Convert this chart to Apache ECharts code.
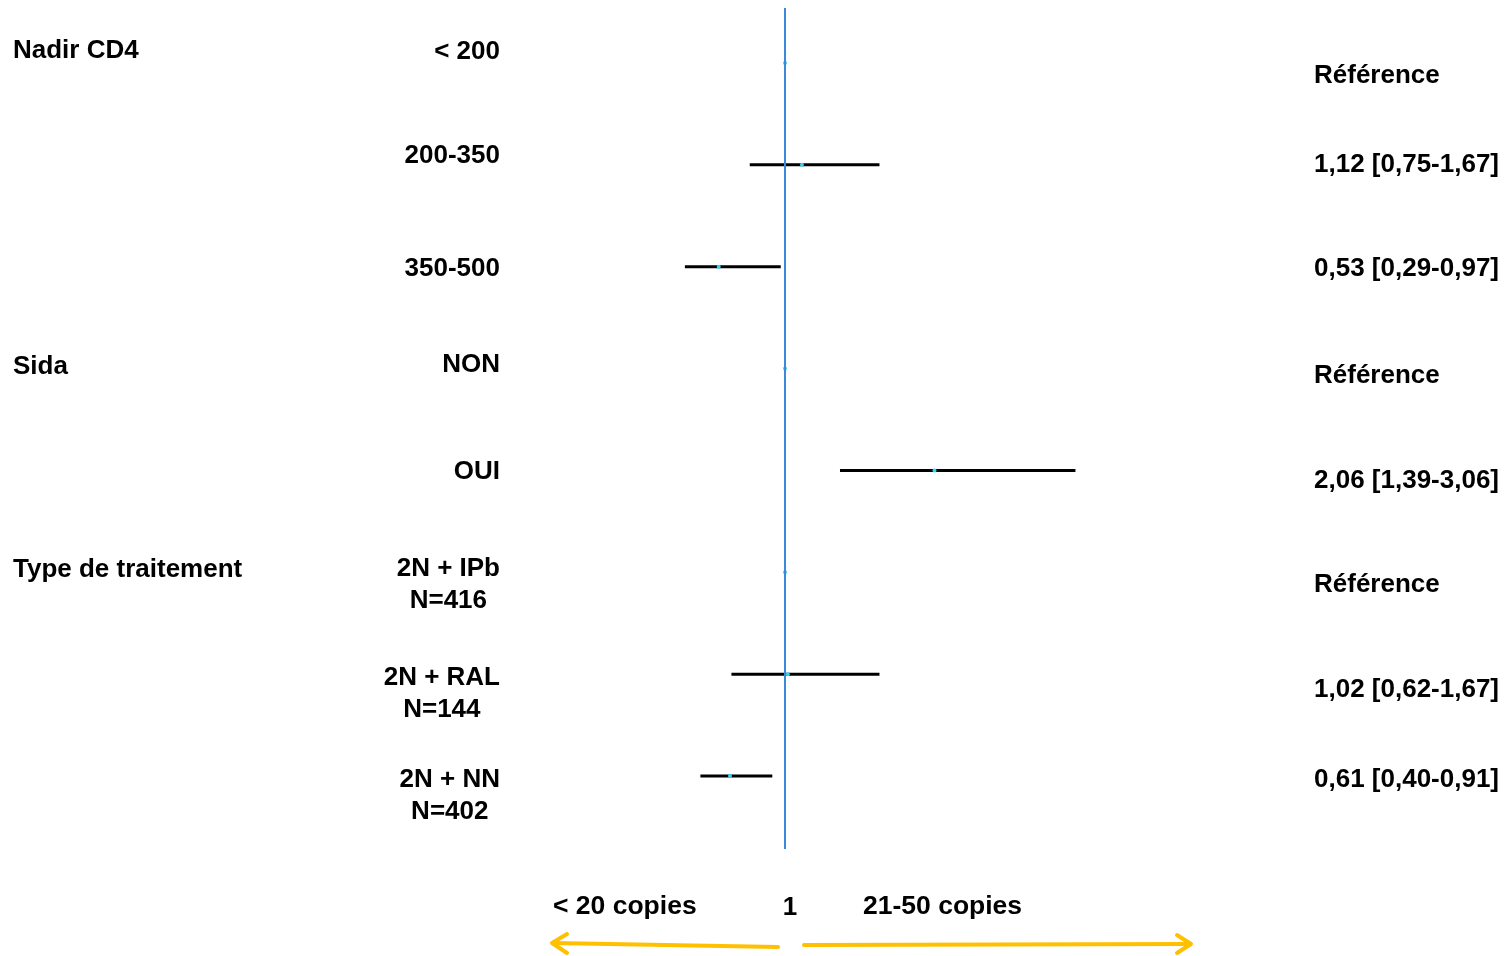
<!DOCTYPE html>
<html>
<head>
<meta charset="utf-8">
<script src="https://cdn.jsdelivr.net/npm/echarts@6/dist/echarts.min.js"></script>
<style>
html,body{margin:0;padding:0;background:#fff;}
#chart{width:1509px;height:956px;}
</style>
</head>
<body>
<div id="chart"></div>
<script>
// ---- data ----
const groups = ['Nadir CD4', '', '', 'Sida', '', 'Type de traitement', '', ''];
const categories = ['< 200', '200-350', '350-500', 'NON', 'OUI', '2N + IPb\nN=416', '2N + RAL\nN=144', '2N + NN\nN=402'];
const estimate = [1, 1.12, 0.53, 1, 2.06, 1, 1.02, 0.61];
const lower = [null, 0.75, 0.29, null, 1.39, null, 0.62, 0.40];
const upper = [null, 1.67, 0.97, null, 3.06, null, 1.67, 0.91];
const referenceValue = 1;
const xTickLabels = ['1'];
const leftNote = '< 20 copies';
const rightNote = '21-50 copies';

// ---- layout tweaks (label vertical nudges, px) ----
const groupNudge = [-12, 0, 0, -2, 0, -2, 0, 0];
const catNudge = [-11, -9, 2, -4, 1, 13, 20, 20];
const resNudge = [13, 0, 2, 7, 10, 13, 16, 4];

const fmt = v => v.toFixed(2).replace('.', ',');
const results = estimate.map((e, i) => lower[i] == null ? 'Référence'
  : fmt(e) + ' [' + fmt(lower[i]) + '-' + fmt(upper[i]) + ']');

const FONT = 'Liberation Sans, Arial, sans-serif';
const pad = d => [d > 0 ? 2 * d : 0, 0, d < 0 ? -2 * d : 0, 0];
const withNudge = (arr, nudge, align) => arr.map((v, i) => ({ value: v, textStyle: { padding: pad(nudge[i]), align: align } }));
const richFmt = v => v.split('\n').map(s => '{c|' + s + '}').join('\n');
const richC = { c: { align: 'center', fontSize: 26, fontWeight: 'bold', color: '#000', fontFamily: FONT, lineHeight: 32 } };

const labelBase = { fontSize: 26, fontWeight: 'bold', color: '#000', fontFamily: FONT, interval: 0, lineHeight: 32 };

const chart = echarts.init(document.getElementById('chart'));
chart.setOption({
  backgroundColor: '#fff',
  animation: false,
  grid: [
    { left: 644, right: 301, top: 63, height: 713, containLabel: false, outerBoundsMode: 'none' },
    { left: 644, right: 301, top: 8, height: 841, containLabel: false, outerBoundsMode: 'none' }
  ],
  xAxis: [
    { gridIndex: 0, type: 'value', min: 0, max: 4, show: false },
    { gridIndex: 1, type: 'value', min: 0, max: 4, interval: 1,
      axisLine: { show: false }, axisTick: { show: false }, splitLine: { show: false },
      axisLabel: Object.assign({}, labelBase, { margin: 43, padding: [0, 0, 0, 10],
        formatter: v => xTickLabels.indexOf(String(v)) >= 0 ? String(v) : '' }) }
  ],
  yAxis: [
    { gridIndex: 0, type: 'category', inverse: true, boundaryGap: false, position: 'left', offset: 0,
      data: withNudge(categories, catNudge, 'right'),
      axisLine: { show: false }, axisTick: { show: false }, splitLine: { show: false },
      axisLabel: Object.assign({}, labelBase, { margin: 144, align: 'right', formatter: richFmt, rich: richC }) },
    { gridIndex: 0, type: 'category', inverse: true, boundaryGap: false, position: 'left', offset: 0,
      data: withNudge(groups, groupNudge, 'left'),
      axisLine: { show: false }, axisTick: { show: false }, splitLine: { show: false },
      axisLabel: Object.assign({}, labelBase, { margin: 631, align: 'left', formatter: richFmt, rich: richC }) },
    { gridIndex: 0, type: 'category', inverse: true, boundaryGap: false, position: 'right', offset: 0,
      data: withNudge(results, resNudge, 'left'),
      axisLine: { show: false }, axisTick: { show: false }, splitLine: { show: false },
      axisLabel: Object.assign({}, labelBase, { margin: 106, align: 'left', formatter: richFmt, rich: richC }) },
    { gridIndex: 1, type: 'value', min: 0, max: 1, show: false }
  ],
  series: [
    {
      type: 'custom',
      xAxisIndex: 0, yAxisIndex: 0,
      encode: { x: [1, 2, 3], y: 0 },
      data: categories.map((c, i) => [i, estimate[i],
        lower[i] == null ? estimate[i] : lower[i],
        upper[i] == null ? estimate[i] : upper[i]]),
      renderItem: (params, api) => {
        const y = api.value(0);
        const est = api.value(1), lo = api.value(2), hi = api.value(3);
        const children = [];
        if (hi > lo) {
          const p1 = api.coord([lo, y]);
          const p2 = api.coord([hi, y]);
          children.push({ type: 'line', shape: { x1: p1[0], y1: p1[1], x2: p2[0], y2: p2[1] },
            style: { stroke: '#000', lineWidth: 3 } });
        }
        const c = api.coord([est, y]);
        children.push({ type: 'circle', shape: { cx: c[0], cy: c[1], r: 2 }, style: { fill: '#33D4F4' } });
        return { type: 'group', children };
      },
      z: 3
    },
    {
      type: 'scatter', xAxisIndex: 1, yAxisIndex: 3, data: [], silent: true,
      markLine: { silent: true, symbol: 'none', label: { show: false },
        lineStyle: { color: '#3A8AD8', width: 2, type: 'solid' },
        data: [{ xAxis: referenceValue }] },
      z: 2
    }
  ],
  graphic: [
    { type: 'text', left: 553, top: 893, style: { text: leftNote, font: 'bold 26.5px ' + FONT, fill: '#000' } },
    { type: 'text', left: 863, top: 893, style: { text: rightNote, font: 'bold 26.5px ' + FONT, fill: '#000' } },
    { type: 'polyline', shape: { points: [[778, 947], [553, 943]] }, style: { stroke: '#FFC000', lineWidth: 4, lineCap: 'round' } },
    { type: 'polyline', shape: { points: [[567, 934], [552, 943], [567, 953]] }, style: { stroke: '#FFC000', lineWidth: 4, lineCap: 'round', lineJoin: 'round', fill: null } },
    { type: 'polyline', shape: { points: [[804, 945], [1190, 944]] }, style: { stroke: '#FFC000', lineWidth: 4, lineCap: 'round' } },
    { type: 'polyline', shape: { points: [[1177, 935], [1191, 944], [1177, 953]] }, style: { stroke: '#FFC000', lineWidth: 4, lineCap: 'round', lineJoin: 'round', fill: null } }
  ]
});
</script>
</body>
</html>
